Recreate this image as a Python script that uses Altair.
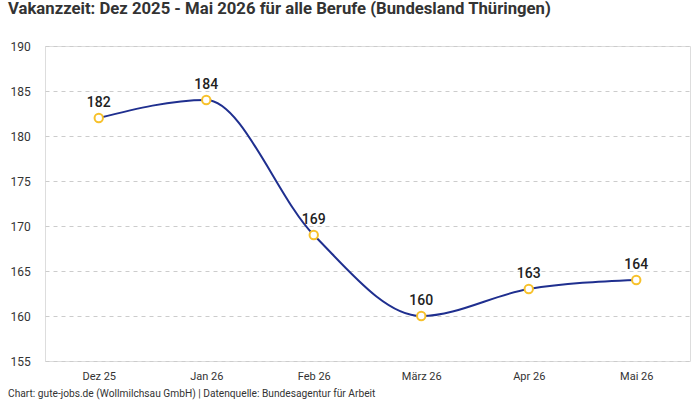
import altair as alt
import pandas as pd

months = ["Dez 25", "Jan 26", "Feb 26", "März 26", "Apr 26", "Mai 26"]
vakanzzeit = [182, 184, 169, 160, 163, 164]

df = pd.DataFrame({"monat": months, "tage": vakanzzeit})

FONT = "Roboto"
W, H = 645, 315

x = alt.X("monat:N", sort=months, title=None,
          scale=alt.Scale(paddingInner=1, paddingOuter=0.5),
          axis=alt.Axis(labelAngle=0, labelFontSize=11, labelColor="#333",
                        labelPadding=9, ticks=False, domain=False, grid=False,
                        labelFont=FONT))
y = alt.Y("tage:Q", title=None,
          scale=alt.Scale(domain=[155, 190], nice=False, zero=False),
          axis=alt.Axis(values=list(range(155, 191, 5)), labelFontSize=12,
                        labelColor="#333", labelAlign="left", labelPadding=35,
                        ticks=False, domain=False, grid=True,
                        gridColor="#cccccc", gridDash=[4, 4], gridWidth=1,
                        labelFont=FONT))

base = alt.Chart(df).encode(x=x, y=y)

line = base.mark_line(interpolate="monotone", color="#1f2f8f", strokeWidth=2)
points = base.mark_point(filled=True, fill="white", stroke="#f7c12b",
                         strokeWidth=2, size=70, opacity=1)
labels = base.mark_text(dy=-15, fontSize=14, fontWeight=500, color="#222",
                        font=FONT).encode(text="tage:Q")

footer = alt.Chart(pd.DataFrame({"t": ["Chart: gute-jobs.de (Wollmilchsau GmbH) | Datenquelle: Bundesagentur für Arbeit"]})).mark_text(
    align="left", baseline="middle", fontSize=10.2, color="#333", font=FONT
).encode(text="t:N", x=alt.value(-37), y=alt.value(H + 33))

chart = (line + points + labels + footer).properties(
    width=W, height=H,
    title=alt.TitleParams(
        "Vakanzzeit: Dez 2025 - Mai 2026 für alle Berufe (Bundesland Thüringen)",
        anchor="start", frame="group", dx=-37, offset=22,
        fontSize=16.7, fontWeight="bold", color="#333", font=FONT),
    autosize=alt.AutoSizeParams(type="none"),
    padding={"left": 45, "top": 46, "right": 10, "bottom": 39},
).configure_view(stroke=None).configure(background="white")

chart.save("out.html", embed_options={"renderer": "svg", "actions": False})
